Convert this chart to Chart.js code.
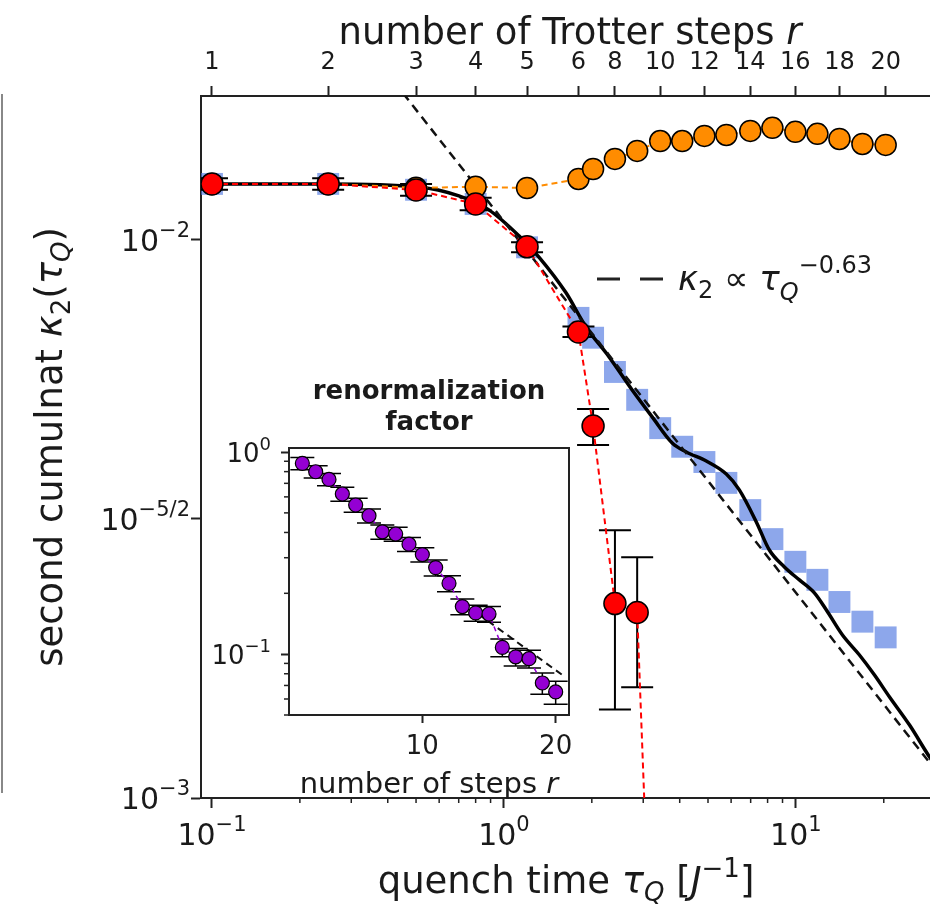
<!DOCTYPE html>
<html><head><meta charset="utf-8">
<script src="https://cdn.jsdelivr.net/npm/chart.js@4.4.1/dist/chart.umd.min.js"></script>
<style>
html,body{margin:0;padding:0;background:#fff;overflow:hidden;}
#wrap{position:relative;width:930px;height:905px;}
#main{position:absolute;left:0;top:0;}
#inset{position:absolute;left:200px;top:340px;}
</style></head><body>
<div id="wrap"><canvas id="main" width="930" height="905"></canvas><canvas id="inset" width="375" height="465"></canvas></div>
<script>
// ---------- data ----------
const trotterSteps = [1,2,3,4,5,6,7,8,9,10,11,12,13,14,15,16,17,18,19,20];
const quenchTimes  = [0.1,0.25,0.5,0.8,1.2,1.8,2.02,2.4,2.86,3.43,4.08,4.86,5.78,6.98,8.31,9.96,11.85,14.1,16.9,20.3];
const topTickSteps = [1,2,3,4,5,6,8,10,12,14,16,18,20];

const redValues   = [0.0126,0.0126,0.01229,0.0116,0.00972,0.00684,0.00464,0.00223,0.00215,0.000175];
const redErrLow   = [0.0123,0.0123,0.0120,0.0113,0.0095,0.0067,0.00429,0.00144,0.00158,null];
const redErrHigh  = [0.0129,0.0129,0.0126,0.0119,0.0099,0.0070,0.00498,0.00302,0.00270,null];

const orangeValues = [0.0126,0.0126,0.0124,0.01245,0.01239,0.01286,0.0134,0.01397,0.01444,0.01504,0.01504,0.01536,0.01542,0.01568,0.01588,0.01562,0.01549,0.01517,0.01486,0.0148];

const blueValues = [0.0126,0.0126,0.0123,0.0116,0.0097,0.00725,0.00668,0.0058,0.00517,0.0046,0.00426,0.0040,0.00367,0.00328,0.00291,0.00265,0.00246,0.002245,0.00207,0.00194];

const simTimes  = [0.09,0.1,0.25,0.503,0.701,0.888,1.126,1.318,1.632,1.911,2.292,2.749,3.219,3.77,4.211,4.932,5.776,6.401,7.319,8.111,9.132,10.28,11.57,12.72,14.44,16.51,18.59,20.93,24.51,28.71,32.32];
const simValues = [0.0126,0.0126,0.0126,0.01245,0.01199,0.01132,0.01017,0.00932,0.00804,0.006984,0.006171,0.005384,0.004818,0.004327,0.004169,0.004016,0.003806,0.003565,0.003124,0.002782,0.002594,0.002459,0.002331,0.002172,0.001959,0.001804,0.001661,0.001517,0.001351,0.001184,0.001086];

const fitTimes  = [0.4195, 33.6];
const fitValues = [0.01923, 0.001042];

const xMajorTicks = [0.1, 1, 10];
const xTickExps   = ['−1','0','1'];
const yMajorTicks = [0.001, 0.00316228, 0.01];
const yTickExps   = ['−3','−5/2','−2'];

// inset
const insetSteps  = [1,2,3,4,5,6,7,8,9,10,11,12,13,14,15,16,17,18,19,20];
const insetValues = [0.879,0.799,0.732,0.620,0.547,0.484,0.403,0.393,0.350,0.311,0.268,0.224,0.172,0.160,0.158,0.108,0.097,0.095,0.072,0.065];
const insetRelErr = [0.07,0.07,0.07,0.08,0.08,0.08,0.08,0.08,0.08,0.08,0.09,0.09,0.09,0.09,0.09,0.1,0.1,0.1,0.12,0.13];
const insetFitSteps  = [14.2, 20.6];
const insetFitValues = [0.158, 0.078];
const insetXTicks = [10, 20];
const insetYTicks = [0.1, 1];
const insetYExps  = ['−1','0'];

// ---------- helpers ----------
const FONT = '"DejaVu Sans", "Liberation Sans", sans-serif';
const INK = '#1a1a1a';
function fontStr(p){ return (p.b?'bold ':'') + (p.i?'italic ':'') + p.s + 'px ' + FONT; }
function drawRich(ctx, parts, x, y, align){
  let w = 0; const ws = [];
  parts.forEach(p=>{ ctx.font = fontStr(p); const m = ctx.measureText(p.t).width; ws.push(m); w += m; });
  let x0 = align==='center' ? x - w/2 : (align==='right' ? x - w : x);
  ctx.textAlign='left'; ctx.textBaseline='alphabetic'; ctx.fillStyle = INK;
  parts.forEach((p,k)=>{ ctx.font = fontStr(p); ctx.fillText(p.t, x0, y + (p.dy||0)); x0 += ws[k]; });
}
function drawPow(ctx, base, exp, x, y, align, size){
  drawRich(ctx, [{t:base,s:size},{t:exp,s:Math.round(size*0.7),dy:-Math.round(size*0.45)}], x, y, align);
}
function noPad(s){ s.paddingLeft = 0; s.paddingRight = 0; s.paddingTop = 0; s.paddingBottom = 0; }

// ---------- main chart ----------
const pts = (xs, ys) => ys.map((v,i)=>({x:xs[i], y:v}));
const topTickTimes = topTickSteps.map(r => quenchTimes[trotterSteps.indexOf(r)]);

const mainPlugin = {
  id:'mainDeco',
  beforeDatasetDraw(chart, args){
    if (args.index !== 0) return;
    const ctx = chart.ctx, a = chart.chartArea, xs = chart.scales.x, ys = chart.scales.y;
    ctx.save(); ctx.beginPath(); ctx.rect(a.left, a.top, a.width, a.height); ctx.clip();
    ctx.strokeStyle = '#000'; ctx.lineWidth = 2;
    redValues.forEach((v,i)=>{
      if (redErrLow[i]==null) return;
      const px = xs.getPixelForValue(quenchTimes[i]);
      const y1 = ys.getPixelForValue(redErrLow[i]), y2 = ys.getPixelForValue(redErrHigh[i]);
      ctx.beginPath(); ctx.moveTo(px,y1); ctx.lineTo(px,y2);
      ctx.moveTo(px-16,y1); ctx.lineTo(px+16,y1); ctx.moveTo(px-16,y2); ctx.lineTo(px+16,y2); ctx.stroke();
    });
    ctx.restore();
  },
  afterDraw(chart){
    const ctx = chart.ctx, a = chart.chartArea, xs = chart.scales.x, ys = chart.scales.y;
    ctx.save();
    ctx.strokeStyle = '#222'; ctx.lineWidth = 1.5;
    [0.1,1,10].forEach(d=>{ for(let m=2;m<=9;m++){ const v=d*m; if (v<xs.min||v>xs.max) continue;
      const px = xs.getPixelForValue(v); ctx.beginPath(); ctx.moveTo(px,a.bottom); ctx.lineTo(px,a.bottom+5); ctx.stroke(); }});
    xMajorTicks.forEach((v,i)=> drawPow(ctx,'10',xTickExps[i], xs.getPixelForValue(v), 845, 'center', 30));
    yMajorTicks.forEach((v,i)=> drawPow(ctx,'10',yTickExps[i], 190, ys.getPixelForValue(v)+11, 'right', 30));
    drawRich(ctx,[{t:'number of Trotter steps ',s:37},{t:'r',s:37,i:true}], 570, 44, 'center');
    drawRich(ctx,[{t:'quench time ',s:37},{t:'τ',s:37,i:true},{t:'Q',s:26,i:true,dy:8},{t:' [',s:37},{t:'J',s:37,i:true},{t:'−1',s:26,dy:-16},{t:']',s:37}], 566, 893, 'center');
    ctx.save(); ctx.translate(62, 447); ctx.rotate(-Math.PI/2);
    drawRich(ctx,[{t:'second cumulnat ',s:37},{t:'κ',s:37,i:true},{t:'2',s:26,dy:8},{t:'(',s:37},{t:'τ',s:37,i:true},{t:'Q',s:26,i:true,dy:8},{t:')',s:37}], 0, 0, 'center');
    ctx.restore();
    ctx.strokeStyle = '#222'; ctx.lineWidth = 3; ctx.setLineDash([23,20]);
    ctx.beginPath(); ctx.moveTo(597,279); ctx.lineTo(665,279); ctx.stroke(); ctx.setLineDash([]);
    drawRich(ctx,[{t:'κ',s:34,i:true},{t:'2',s:24,dy:8},{t:' ∝ ',s:34},{t:'τ',s:34,i:true},{t:'Q',s:24,i:true,dy:10},{t:'−0.63',s:24,dy:-17}], 678, 290, 'left');
    ctx.strokeStyle = '#888'; ctx.lineWidth = 2;
    ctx.beginPath(); ctx.moveTo(2,94); ctx.lineTo(2,793); ctx.stroke();
    ctx.restore();
  }
};

const axisGrid = {drawOnChartArea:false, drawTicks:true, tickLength:10, tickWidth:2, tickColor:'#222'};
const axisBorder = {display:true, color:'#222', width:2};

new Chart(document.getElementById('main'), {
  type:'line',
  data:{ datasets:[
    {label:'red', data:pts(quenchTimes, redValues), borderColor:'#ff0000', borderWidth:2, borderDash:[6,4],
     pointRadius:11, pointBackgroundColor:'#ff0000', pointBorderColor:'#000', pointBorderWidth:1.5, order:0},
    {label:'orange', data:pts(quenchTimes, orangeValues), borderColor:'#ff8c00', borderWidth:2, borderDash:[6,4],
     pointRadius:10.5, pointBackgroundColor:'#ff8c00', pointBorderColor:'#000', pointBorderWidth:1.5, order:1},
    {label:'fit', data:pts(fitTimes, fitValues), borderColor:'#111', borderWidth:2.5, borderDash:[9,6], pointRadius:0, order:2},
    {label:'sim', data:pts(simTimes, simValues), borderColor:'#000', borderWidth:3.5, pointRadius:0, cubicInterpolationMode:'monotone', order:3},
    {label:'blue', data:pts(quenchTimes, blueValues), showLine:false, pointStyle:'rect', pointRadius:15.5,
     pointBackgroundColor:'rgba(80,120,225,0.65)', pointBorderWidth:0, order:4}
  ]},
  options:{
    responsive:false, animation:false, events:[],
    layout:{padding:0, autoPadding:false},
    plugins:{legend:{display:false}, tooltip:{enabled:false}},
    scales:{
      x:{type:'logarithmic', position:'bottom', min:0.0917, max:28.8,
         afterBuildTicks:s=>{ s.ticks = xMajorTicks.map(v=>({value:v})); },
         ticks:{callback:()=> '', autoSkip:false, maxRotation:0},
         grid:axisGrid, border:axisBorder, afterFit:s=>{ s.height = 107; noPad(s); }},
      x2:{type:'logarithmic', position:'top', min:0.0917, max:28.8,
         afterBuildTicks:s=>{ s.ticks = topTickTimes.map(v=>({value:v})); },
         ticks:{callback:(v,i)=> String(topTickSteps[i]), autoSkip:false, maxRotation:0, minRotation:0,
                padding:9, color:INK, font:{family:FONT, size:24}},
         grid:axisGrid, border:axisBorder, afterFit:s=>{ s.height = 96; noPad(s); }},
      y:{type:'logarithmic', position:'left', min:0.001, max:0.01811,
         afterBuildTicks:s=>{ s.ticks = yMajorTicks.map(v=>({value:v})); },
         ticks:{callback:()=> '', autoSkip:false},
         grid:axisGrid, border:axisBorder, afterFit:s=>{ s.width = 201; noPad(s); }}
    }
  },
  plugins:[mainPlugin]
});

// ---------- inset chart ----------
const insetPlugin = {
  id:'insetDeco',
  beforeDatasetsDraw(chart){
    const ctx = chart.ctx, a = chart.chartArea;
    ctx.save(); ctx.fillStyle='#fff'; ctx.fillRect(a.left,a.top,a.width,a.height); ctx.restore();
  },
  beforeDatasetDraw(chart,args){
    if (args.index !== 0) return;
    const ctx = chart.ctx, xs = chart.scales.x, ys = chart.scales.y;
    ctx.save(); ctx.strokeStyle='#000'; ctx.lineWidth=1.5;
    insetValues.forEach((v,i)=>{
      const px = xs.getPixelForValue(insetSteps[i]);
      const y1 = ys.getPixelForValue(v*(1-insetRelErr[i])), y2 = ys.getPixelForValue(v*(1+insetRelErr[i]));
      ctx.beginPath(); ctx.moveTo(px,y1); ctx.lineTo(px,y2);
      ctx.moveTo(px-12,y1); ctx.lineTo(px+12,y1); ctx.moveTo(px-12,y2); ctx.lineTo(px+12,y2); ctx.stroke();
    });
    ctx.restore();
  },
  afterDraw(chart){
    const ctx = chart.ctx, a = chart.chartArea, ys = chart.scales.y;
    ctx.save();
    ctx.strokeStyle='#222'; ctx.lineWidth=2; ctx.strokeRect(a.left, a.top, a.width, a.height);
    ctx.lineWidth=1.5;
    [0.01,0.1].forEach(d=>{ for(let m=2;m<=9;m++){ const v=d*m; if (v<ys.min||v>ys.max) continue;
      const py = ys.getPixelForValue(v); ctx.beginPath(); ctx.moveTo(a.left,py); ctx.lineTo(a.left-5,py); ctx.stroke(); }});
    insetYTicks.forEach((v,i)=> drawPow(ctx,'10',insetYExps[i], 71, ys.getPixelForValue(v)+10, 'right', 26));
    drawRich(ctx,[{t:'renormalization',s:26,b:true}], (a.left+a.right)/2, 59, 'center');
    drawRich(ctx,[{t:'factor',s:26,b:true}], (a.left+a.right)/2, 90, 'center');
    drawRich(ctx,[{t:'number of steps ',s:29},{t:'r',s:29,i:true}], (a.left+a.right)/2, 453, 'center');
    ctx.restore();
  }
};
const insetGrid = {drawOnChartArea:false, drawTicks:true, tickLength:8, tickWidth:2, tickColor:'#222'};

new Chart(document.getElementById('inset'), {
  type:'line',
  data:{ datasets:[
    {label:'renormalization', data:pts(insetSteps, insetValues), borderColor:'#9400d3', borderWidth:1.5, borderDash:[5,4],
     pointRadius:7, pointBackgroundColor:'#9400d3', pointBorderColor:'#000', pointBorderWidth:1.2, order:0},
    {label:'fit', data:pts(insetFitSteps, insetFitValues), borderColor:'#111', borderWidth:2, borderDash:[7,5], pointRadius:0, order:1}
  ]},
  options:{
    responsive:false, animation:false, events:[],
    layout:{padding:{top:108, right:6, left:0, bottom:0}, autoPadding:false},
    plugins:{legend:{display:false}, tooltip:{enabled:false}},
    scales:{
      x:{type:'linear', position:'bottom', min:0, max:21,
         afterBuildTicks:s=>{ s.ticks = insetXTicks.map(v=>({value:v})); },
         ticks:{autoSkip:false, maxRotation:0, padding:9, color:INK, font:{family:FONT,size:26}},
         grid:insetGrid, border:axisBorder, afterFit:s=>{ s.height = 90; noPad(s); }},
      y:{type:'logarithmic', position:'left', min:0.05, max:1.047,
         afterBuildTicks:s=>{ s.ticks = insetYTicks.map(v=>({value:v})); },
         ticks:{callback:()=> '', autoSkip:false},
         grid:insetGrid, border:axisBorder, afterFit:s=>{ s.width = 89; noPad(s); }}
    }
  },
  plugins:[insetPlugin]
});
</script>
</body></html>
